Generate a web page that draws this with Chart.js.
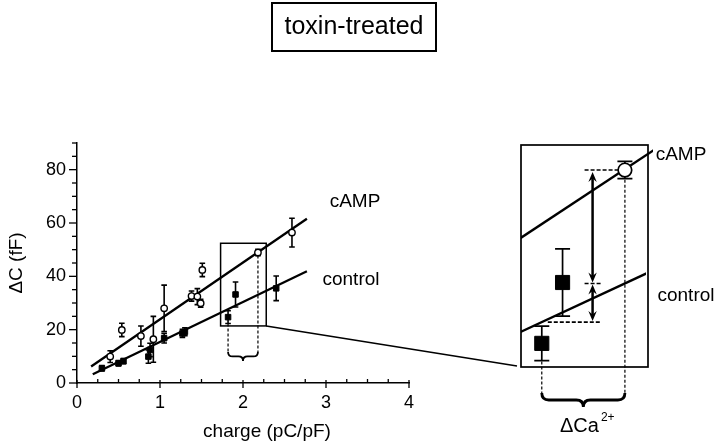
<!DOCTYPE html>
<html><head><meta charset="utf-8">
<script src="https://cdn.jsdelivr.net/npm/chart.js@4/dist/chart.umd.min.js"></script>
<style>
html,body{margin:0;padding:0;background:#fff;}
#wrap{position:relative;width:720px;height:448px;}
canvas{position:absolute;left:0;top:0;}
</style></head><body>
<div id="wrap"><canvas id="main" width="720" height="448"></canvas><canvas id="inset" width="720" height="448"></canvas></div>
<script>
// ---- data ----
const chartTitle = 'toxin-treated';
const xAxisTitle = 'charge (pC/pF)';
const yAxisTitle = 'ΔC (fF)';
const seriesNames = ['cAMP', 'control'];
const insetLabel = 'ΔCa';
const insetLabelSup = '2+';

const camp_x   = [0.40, 0.54, 0.77, 0.92, 1.05, 1.38, 1.45, 1.49, 1.51, 2.18, 2.59];
const camp_y   = [9.9, 19.9, 17.6, 16.4, 28.0, 32.6, 32.4, 29.9, 42.4, 48.9, 56.4];
const camp_err = [2.2, 2.5, 3.8, 8.6, 8.7, 1.9, 3.0, 1.5, 2.5, 1.2, 5.4];

const ctrl_x   = [0.30, 0.50, 0.56, 0.86, 0.88, 1.05, 1.27, 1.30, 1.82, 1.91, 2.40];
const ctrl_y   = [5.5, 7.4, 8.2, 9.9, 12.4, 16.8, 18.6, 19.2, 24.7, 33.2, 35.5];
const ctrl_err = [1.0, 1.0, 1.0, 2.5, 2.5, 1.8, 1.5, 1.5, 2.4, 4.7, 4.6];

const campFit_x = [0.17, 2.77];
const campFit_y = [6.2, 61.6];
const ctrlFit_x = [0.19, 2.77];
const ctrlFit_y = [3.25, 41.9];

const zoom_x = [1.73, 2.28];
const zoom_y = [21.4, 52.4];

const xRange = [0, 4];
const yRange = [0, 90];
const xLabelTicks = [0, 1, 2, 3, 4];
const yLabelTicks = [0, 20, 40, 60, 80];

// ---- helpers ----
const FONT = '"Liberation Sans", Arial, sans-serif';
const pts = (xs, ys) => xs.map((x, i) => ({x, y: ys[i]}));
const fitAt = (xs, ys, x) => ys[0] + (ys[1] - ys[0]) * (x - xs[0]) / (xs[1] - xs[0]);
const inZoom = (x, y) => x >= zoom_x[0] && x <= zoom_x[1] && y >= zoom_y[0] && y <= zoom_y[1];
function subset(xs, ys, es) {
  const d = [], e = [];
  xs.forEach((x, i) => { if (inZoom(x, ys[i])) { d.push({x, y: ys[i]}); e.push(es[i]); } });
  return {d, e};
}
const campZ = subset(camp_x, camp_y, camp_err);
const ctrlZ = subset(ctrl_x, ctrl_y, ctrl_err);

function brace(ctx, x1, x2, y, h) {
  const m = (x1 + x2) / 2, r = h / 2;
  ctx.beginPath();
  ctx.moveTo(x1, y);
  ctx.quadraticCurveTo(x1, y + r, x1 + r, y + r);
  ctx.lineTo(m - r, y + r);
  ctx.quadraticCurveTo(m, y + r, m, y + h);
  ctx.quadraticCurveTo(m, y + r, m + r, y + r);
  ctx.lineTo(x2 - r, y + r);
  ctx.quadraticCurveTo(x2, y + r, x2, y);
  ctx.stroke();
}
function head(ctx, x, y, dir, hl, hw) {
  ctx.beginPath();
  ctx.moveTo(x, y);
  ctx.lineTo(x - hw, y + dir * hl);
  ctx.lineTo(x, y + dir * hl * 0.65);
  ctx.lineTo(x + hw, y + dir * hl);
  ctx.closePath();
  ctx.fill();
}
function dblArrow(ctx, x, y1, y2) {
  const hl = 10, hw = 4.2;
  ctx.beginPath(); ctx.moveTo(x, y1 + 4); ctx.lineTo(x, y2 - 4); ctx.stroke();
  head(ctx, x, y1, 1, hl, hw);
  head(ctx, x, y2, -1, hl, hw);
}
function vdash(ctx, x, y1, y2) {
  ctx.save(); ctx.setLineDash([3, 2]); ctx.lineWidth = 1.2;
  ctx.beginPath(); ctx.moveTo(x, y1); ctx.lineTo(x, y2); ctx.stroke(); ctx.restore();
}
function hdash(ctx, y, x1, x2) {
  ctx.save(); ctx.setLineDash([4, 2]); ctx.lineWidth = 1.6;
  ctx.beginPath(); ctx.moveTo(x1, y); ctx.lineTo(x2, y); ctx.stroke(); ctx.restore();
}

const errorBars = {
  id: 'errorBars',
  beforeDatasetsDraw(chart, args, opts) {
    const ctx = chart.ctx, ys = chart.scales.y;
    chart.data.datasets.forEach((ds, i) => {
      if (!ds.errors) return;
      chart.getDatasetMeta(i).data.forEach((pt, j) => {
        const v = ds.data[j].y, e = ds.errors[j];
        const t = ys.getPixelForValue(v + e), b = ys.getPixelForValue(v - e);
        ctx.save(); ctx.strokeStyle = '#000'; ctx.lineWidth = opts.width;
        ctx.beginPath();
        ctx.moveTo(pt.x, t); ctx.lineTo(pt.x, b);
        ctx.moveTo(pt.x - opts.cap, t); ctx.lineTo(pt.x + opts.cap, t);
        ctx.moveTo(pt.x - opts.cap, b); ctx.lineTo(pt.x + opts.cap, b);
        ctx.stroke(); ctx.restore();
      });
    });
  }
};

// ---- main chart ----
const mainDecor = {
  id: 'mainDecor',
  afterDraw(chart) {
    const ctx = chart.ctx, xs = chart.scales.x, ys = chart.scales.y;
    const ax = xs.getPixelForValue(xRange[0]), ay = ys.getPixelForValue(yRange[0]);
    ctx.save();
    ctx.strokeStyle = '#000'; ctx.fillStyle = '#000'; ctx.lineWidth = 1.3;
    // tick marks
    xs.ticks.forEach(t => {
      const p = xs.getPixelForValue(t.value);
      ctx.beginPath();
      if (Number.isInteger(t.value)) { ctx.moveTo(p, ay - 3); ctx.lineTo(p, ay + 5); }
      else { ctx.moveTo(p, ay); ctx.lineTo(p, ay - 4); }
      ctx.stroke();
    });
    ys.ticks.forEach(t => {
      const p = ys.getPixelForValue(t.value);
      const len = yLabelTicks.includes(t.value) ? 8 : 5;
      ctx.beginPath(); ctx.moveTo(ax, p); ctx.lineTo(ax - len, p); ctx.stroke();
    });
    // title box
    ctx.lineWidth = 2;
    ctx.strokeRect(272, 3, 164, 48);
    ctx.font = '25px ' + FONT; ctx.textAlign = 'center'; ctx.textBaseline = 'middle';
    ctx.fillText(chartTitle, 354, 27);
    // x axis title
    ctx.font = '19px ' + FONT;
    ctx.fillText(xAxisTitle, 267, 432);
    // series labels
    ctx.fillText(seriesNames[0], 355, 202);
    ctx.fillText(seriesNames[1], 351, 280);
    // zoom rectangle
    const rx1 = xs.getPixelForValue(zoom_x[0]), rx2 = xs.getPixelForValue(zoom_x[1]);
    const ry1 = ys.getPixelForValue(zoom_y[1]), ry2 = ys.getPixelForValue(zoom_y[0]);
    ctx.lineWidth = 1.5;
    ctx.strokeRect(rx1, ry1, rx2 - rx1, ry2 - ry1);
    // dashed drop lines + brace
    const cp = ctrlZ.d[0], ce = ctrlZ.e[0], mp = campZ.d[0];
    const bx1 = xs.getPixelForValue(cp.x), bx2 = xs.getPixelForValue(mp.x);
    const by = ry2 + 26;
    vdash(ctx, bx1, ys.getPixelForValue(cp.y - ce), by);
    vdash(ctx, bx2, ys.getPixelForValue(mp.y) + 3, by);
    ctx.lineWidth = 1.8;
    brace(ctx, bx1, bx2, by, 9);
    ctx.restore();
  }
};

const mainChart = new Chart(document.getElementById('main'), {
  type: 'scatter',
  data: {
    datasets: [
      {label: seriesNames[0], data: pts(camp_x, camp_y), errors: camp_err,
       pointStyle: 'circle', pointRadius: 3.2, pointBackgroundColor: '#fff',
       pointBorderColor: '#000', pointBorderWidth: 1.4},
      {label: seriesNames[1], data: pts(ctrl_x, ctrl_y), errors: ctrl_err,
       pointStyle: 'rect', pointRadius: 3.9, pointBackgroundColor: '#000',
       pointBorderColor: '#000', pointBorderWidth: 1},
      {type: 'line', data: pts(campFit_x, campFit_y), borderColor: '#000',
       borderWidth: 2.3, pointRadius: 0, fill: false},
      {type: 'line', data: pts(ctrlFit_x, ctrlFit_y), borderColor: '#000',
       borderWidth: 2.3, pointRadius: 0, fill: false}
    ]
  },
  options: {
    responsive: false, animation: false, devicePixelRatio: 1,
    layout: {padding: {left: 2, right: 311, top: 143, bottom: 20}},
    plugins: {legend: {display: false}, tooltip: {enabled: false},
              errorBars: {width: 1.6, cap: 2.8}},
    scales: {
      x: {type: 'linear', min: xRange[0], max: xRange[1],
          grid: {drawOnChartArea: false, drawTicks: false},
          border: {color: '#000', width: 1.5},
          ticks: {stepSize: 0.25, autoSkip: false, maxRotation: 0, color: '#000', padding: 9,
                  font: {size: 18, family: FONT},
                  callback: v => xLabelTicks.includes(v) ? String(v) : ''},
          afterFit: s => { s.height = 45; }},
      y: {type: 'linear', min: yRange[0], max: yRange[1],
          grid: {drawOnChartArea: false, drawTicks: false},
          border: {color: '#000', width: 1.5},
          ticks: {stepSize: 5, autoSkip: false, color: '#000', padding: 11,
                  font: {size: 18, family: FONT},
                  callback: v => yLabelTicks.includes(v) ? String(v) : ''},
          title: {display: true, text: yAxisTitle, color: '#000',
                  font: {size: 19, family: FONT}, padding: {top: 3, bottom: 0}},
          afterFit: s => { s.width = 75; }}
    }
  },
  plugins: [errorBars, mainDecor]
});

// ---- inset chart ----
const insetDecor = {
  id: 'insetDecor',
  afterDraw(chart) {
    const ctx = chart.ctx, xs = chart.scales.x, ys = chart.scales.y, a = chart.chartArea;
    const mx = mainChart.scales.x, my = mainChart.scales.y;
    ctx.save();
    ctx.strokeStyle = '#000'; ctx.fillStyle = '#000';
    // frame
    ctx.lineWidth = 1.7;
    ctx.strokeRect(a.left, a.top, a.right - a.left, a.bottom - a.top);
    // connector from main zoom box
    ctx.lineWidth = 1.5;
    ctx.beginPath();
    ctx.moveTo(mx.getPixelForValue(zoom_x[1]), my.getPixelForValue(zoom_y[0]));
    ctx.lineTo(a.left - 4, a.bottom - 1);
    ctx.stroke();
    // geometry
    const cp = ctrlZ.d[0], ce = ctrlZ.e[0], mp = campZ.d[0], me = campZ.e[0];
    const cx = xs.getPixelForValue(cp.x), mxp = xs.getPixelForValue(mp.x);
    const yTop = ys.getPixelForValue(mp.y);
    const yMid = ys.getPixelForValue(fitAt(ctrlFit_x, ctrlFit_y, mp.x));
    const yBot = ys.getPixelForValue(fitAt(ctrlFit_x, ctrlFit_y, cp.x));
    const arrowX = xs.getPixelForValue(2.04);
    hdash(ctx, yTop, arrowX - 8, mxp - 7);
    hdash(ctx, yMid, arrowX - 8, arrowX + 10);
    hdash(ctx, yBot, cx + 6, arrowX + 9);
    ctx.lineWidth = 2.5;
    dblArrow(ctx, arrowX, yTop + 2, yMid - 1);
    dblArrow(ctx, arrowX, yMid + 1, yBot - 1);
    // drop lines + brace
    const by = a.bottom + 26;
    vdash(ctx, cx, ys.getPixelForValue(cp.y - ce) + 1, by);
    vdash(ctx, mxp, ys.getPixelForValue(mp.y - me) + 1, by);
    ctx.lineWidth = 2.8;
    brace(ctx, cx, mxp, by, 14);
    // labels
    ctx.font = '19px ' + FONT; ctx.textAlign = 'center'; ctx.textBaseline = 'middle';
    ctx.fillText(seriesNames[0], 681, 155);
    ctx.fillText(seriesNames[1], 686, 296);
    ctx.textAlign = 'left'; ctx.textBaseline = 'alphabetic';
    ctx.font = '20px ' + FONT;
    ctx.fillText(insetLabel, 560, 432);
    const w = ctx.measureText(insetLabel).width;
    ctx.font = '12px ' + FONT;
    ctx.fillText(insetLabelSup, 560 + w + 2, 421);
    ctx.restore();
  }
};

new Chart(document.getElementById('inset'), {
  type: 'scatter',
  data: {
    datasets: [
      {data: campZ.d, errors: campZ.e, pointStyle: 'circle', pointRadius: 6.8,
       pointBackgroundColor: '#fff', pointBorderColor: '#000', pointBorderWidth: 1.7, clip: 10},
      {data: ctrlZ.d, errors: ctrlZ.e, pointStyle: 'rect', pointRadius: 10,
       pointBackgroundColor: '#000', pointBorderColor: '#000', pointBorderWidth: 1, clip: 10},
      {type: 'line', data: pts(campFit_x, campFit_y), borderColor: '#000', borderWidth: 2.4,
       pointRadius: 0, fill: false, clip: {left: 0, top: 0, right: 5, bottom: 0}},
      {type: 'line', data: pts(ctrlFit_x, ctrlFit_y), borderColor: '#000', borderWidth: 2.4,
       pointRadius: 0, fill: false, clip: {left: 0, top: 0, right: -2, bottom: 0}}
    ]
  },
  options: {
    responsive: false, animation: false, devicePixelRatio: 1,
    layout: {padding: {left: 521, right: 72, top: 145, bottom: 81}},
    plugins: {legend: {display: false}, tooltip: {enabled: false},
              errorBars: {width: 1.7, cap: 7.5}},
    scales: {
      x: {type: 'linear', display: false, min: zoom_x[0], max: zoom_x[1]},
      y: {type: 'linear', display: false, min: zoom_y[0], max: zoom_y[1]}
    }
  },
  plugins: [errorBars, insetDecor]
});
</script>
</body></html>
